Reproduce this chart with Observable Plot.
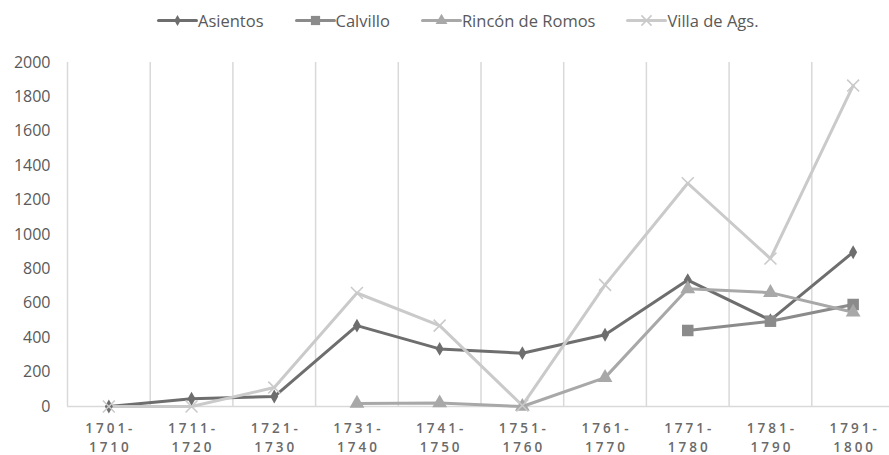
<!DOCTYPE html>
<html><head><meta charset="utf-8">
<script src="https://cdn.jsdelivr.net/npm/d3@7"></script>
<script src="https://cdn.jsdelivr.net/npm/@observablehq/plot@0.6"></script>
<style>
body{margin:0;background:#fff;font-family:"Open Sans",sans-serif;}
#legend{height:40px;display:flex;align-items:center;padding-left:156px;gap:30px;font-size:16.5px;color:#595959;}
#legend .item{display:flex;align-items:center;}
#legend svg{display:block;}
</style></head>
<body>
<div id="legend"></div>
<div id="chart"></div>
<script>
const categories = ["1701-1710","1711-1720","1721-1730","1731-1740","1741-1750","1751-1760","1761-1770","1771-1780","1781-1790","1791-1800"];
const seriesNames = ["Asientos","Calvillo","Rincón de Romos","Villa de Ags."];
const asientos = [0, 45, 58, 470, 335, 310, 417, 735, 502, 897];
const calvillo = [null, null, null, null, null, null, null, 442, 496, 593];
const rincon = [null, null, null, 18, 20, 0, 168, 684, 662, 548];
const villa = [0, 0, 110, 660, 470, 6, 707, 1298, 860, 1866];
const yTicks = [0,200,400,600,800,1000,1200,1400,1600,1800,2000];

const colors = ["#6e6e6e","#8b8b8b","#a8a8a8","#cacaca"];
const symbols = ["diamond","square","triangle","times"];
const radii = [4.2, 6.5, 5.5, 5.5];
const allValues = [asientos, calvillo, rincon, villa];

const rows = allValues.map((vals, s) => vals.map((v, i) => ({s, i, cat: categories[i], v})).filter(d => d.v != null));

const marks = [
  Plot.ruleX(d3.range(-0.5, 9, 1), {x: d => d, y1: 0, y2: 2000, stroke: "#d9d9d9", strokeWidth: 1.5}),
  Plot.ruleY([0], {x1: -0.5, x2: 9.5, stroke: "#d9d9d9", strokeWidth: 1.5}),
  Plot.axisY({ticks: yTicks, tickSize: 0, tickPadding: 17, fontSize: 16, label: null, tickFormat: d => String(d)}),
  Plot.text(categories, {x: (d, i) => i, frameAnchor: "bottom", text: d => d.replace("-", "-\n"), dy: 30, dx: 1.5, lineAnchor: "middle", lineHeight: 1.36, fontSize: 13.5, fontWeight: 600, fill: "#6a6a6a"})
];
rows.forEach((data, s) => {
  marks.push(Plot.line(data, {x: "i", y: "v", stroke: colors[s], strokeWidth: 3}));
});
rows.forEach((data, s) => {
  if (symbols[s] === "times") {
    marks.push(Plot.dot(data, {x: "i", y: "v", symbol: "times", stroke: colors[s], strokeWidth: 1.6, r: radii[s]}));
  } else {
    marks.push(Plot.dot(data, {x: "i", y: "v", symbol: symbols[s], fill: colors[s], stroke: "none", r: radii[s]}));
  }
});

const chart = Plot.plot({
  width: 889,
  height: 415,
  marginLeft: 67,
  marginRight: 0,
  marginTop: 22,
  marginBottom: 49,
  style: {fontFamily: "'Open Sans', sans-serif", fontSize: "14px", color: "#595959", background: "#fff", overflow: "visible"},
  x: {type: "linear", domain: [-0.5, 9.5], range: [67, 894], axis: null},
  y: {domain: [0, 2000], axis: null},
  marks
});
document.getElementById("chart").appendChild(chart);
d3.select(chart).selectAll("text").filter(function() { return this.querySelector("tspan"); }).style("letter-spacing", "3px");

// legend
const legend = document.getElementById("legend");
seriesNames.forEach((name, s) => {
  const item = document.createElement("div");
  item.className = "item";
  const sw = Plot.plot({
    width: 42, height: 20, margin: 0,
    x: {domain: [0, 1], range: [2, 40], axis: null},
    y: {domain: [0, 1], range: [20, 0], axis: null},
    style: {background: "transparent"},
    marks: [
      Plot.line([[0, 0.5], [1, 0.5]], {stroke: colors[s], strokeWidth: 3}),
      symbols[s] === "times"
        ? Plot.dot([[0.5, 0.5]], {symbol: "times", stroke: colors[s], strokeWidth: 1.6, r: radii[s] * 0.85})
        : Plot.dot([[0.5, 0.5]], {symbol: symbols[s], fill: colors[s], r: radii[s] * 0.8})
    ]
  });
  item.appendChild(sw);
  const t = document.createElement("span");
  t.textContent = name;
  item.appendChild(t);
  legend.appendChild(item);
});
</script>
</body></html>
